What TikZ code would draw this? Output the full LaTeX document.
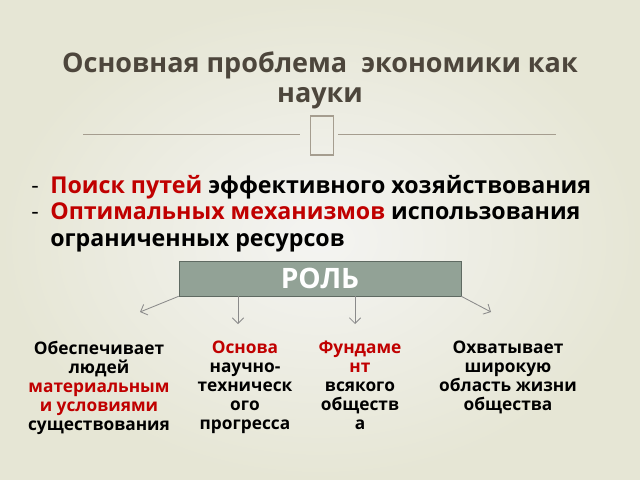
\documentclass[tikz,border=0pt]{standalone}
\usepackage{fontspec}
\setmainfont{Open Sans}
\usetikzlibrary{arrows.meta}
\definecolor{titlecol}{HTML}{4D463C}
\definecolor{redcol}{HTML}{C00000}
\definecolor{boxfill}{HTML}{92A296}
\definecolor{boxline}{HTML}{5F6A62}
\definecolor{decocol}{HTML}{A59D8F}
\definecolor{arrcol}{HTML}{8A8A8A}
\definecolor{bgin}{HTML}{F4F4F2}
\definecolor{bgout}{HTML}{E6E6D5}
\begin{document}
\begin{tikzpicture}
    [x=0.025cm,y=-0.025cm,
     every node/.style={font=\bfseries},
     bullet/.style={anchor=base west,inner sep=0pt,font=\bfseries\fontsize{16.5}{18}\selectfont},
     rolebox/.style={draw=boxline,fill=boxfill,minimum width=282*0.025cm,minimum height=35*0.025cm,
       text=white,font=\bfseries\fontsize{20}{22}\selectfont},
     column/.style={anchor=north,align=center,font=\bfseries\fontsize{12.3}{13.5}\selectfont},
     arr/.style={arrcol,line width=0.6pt,-{Straight Barb[length=4pt,width=8pt]}}]
    % background
    \shade[inner color=bgin,outer color=bgout] (0,0) rectangle (640,480);
    \useasboundingbox (0,0) rectangle (640,480);
    % title
    \node[align=center,text=titlecol,font=\bfseries\fontsize{19.2}{21.5}\selectfont] (title) at (320,80)
      {Основная проблема \ экономики как\\науки};
    \draw[decocol,line width=0.6pt] (83,134) -- (300,134);
    \draw[decocol,line width=0.6pt] (338,134) -- (556,134);
    \draw[decocol,line width=1.2pt] (310.5,116) rectangle (333.5,155);
    % bullets
    \node[bullet,font=\fontsize{16.5}{18}\selectfont] (d1) at (31,193) {-};
    \node[bullet] (b1) at (50,193) {\textcolor{redcol}{Поиск путей} эффективного хозяйствования};
    \node[bullet,font=\fontsize{16.5}{18}\selectfont] (d2) at (31,219) {-};
    \node[bullet] (b2) at (50,219) {\textcolor{redcol}{Оптимальных механизмов} использования};
    \node[bullet] (b3) at (50,246) {ограниченных ресурсов};
    % role
    \node[rolebox,text depth=0pt] (role) at (320,278.5) {РОЛЬ};
    \coordinate (e1) at (140,312);
    \coordinate (e2) at (238,324);
    \coordinate (e3) at (355,324);
    \coordinate (e4) at (491,312);
    \draw[arr] (role.south west) -- (e1);
    \draw[arr] (role.south west -| e2) -- (e2);
    \draw[arr] (role.south west -| e3) -- (e3);
    \draw[arr] (role.south east) -- (e4);
    % columns
    \node[column] (c1) at (99,336) {Обеспечивает\\людей\\\textcolor{redcol}{материальным}\\\textcolor{redcol}{и условиями}\\существования};
    \node[column] (c2) at (245,336) {\textcolor{redcol}{Основа}\\научно-\\техническ\\ого\\прогресса};
    \node[column] (c3) at (360,336) {\textcolor{redcol}{Фундаме}\\\textcolor{redcol}{нт}\\всякого\\обществ\\а};
    \node[column] (c4) at (508,336) {Охватывает\\широкую\\область жизни\\общества};
\end{tikzpicture}
\end{document}
